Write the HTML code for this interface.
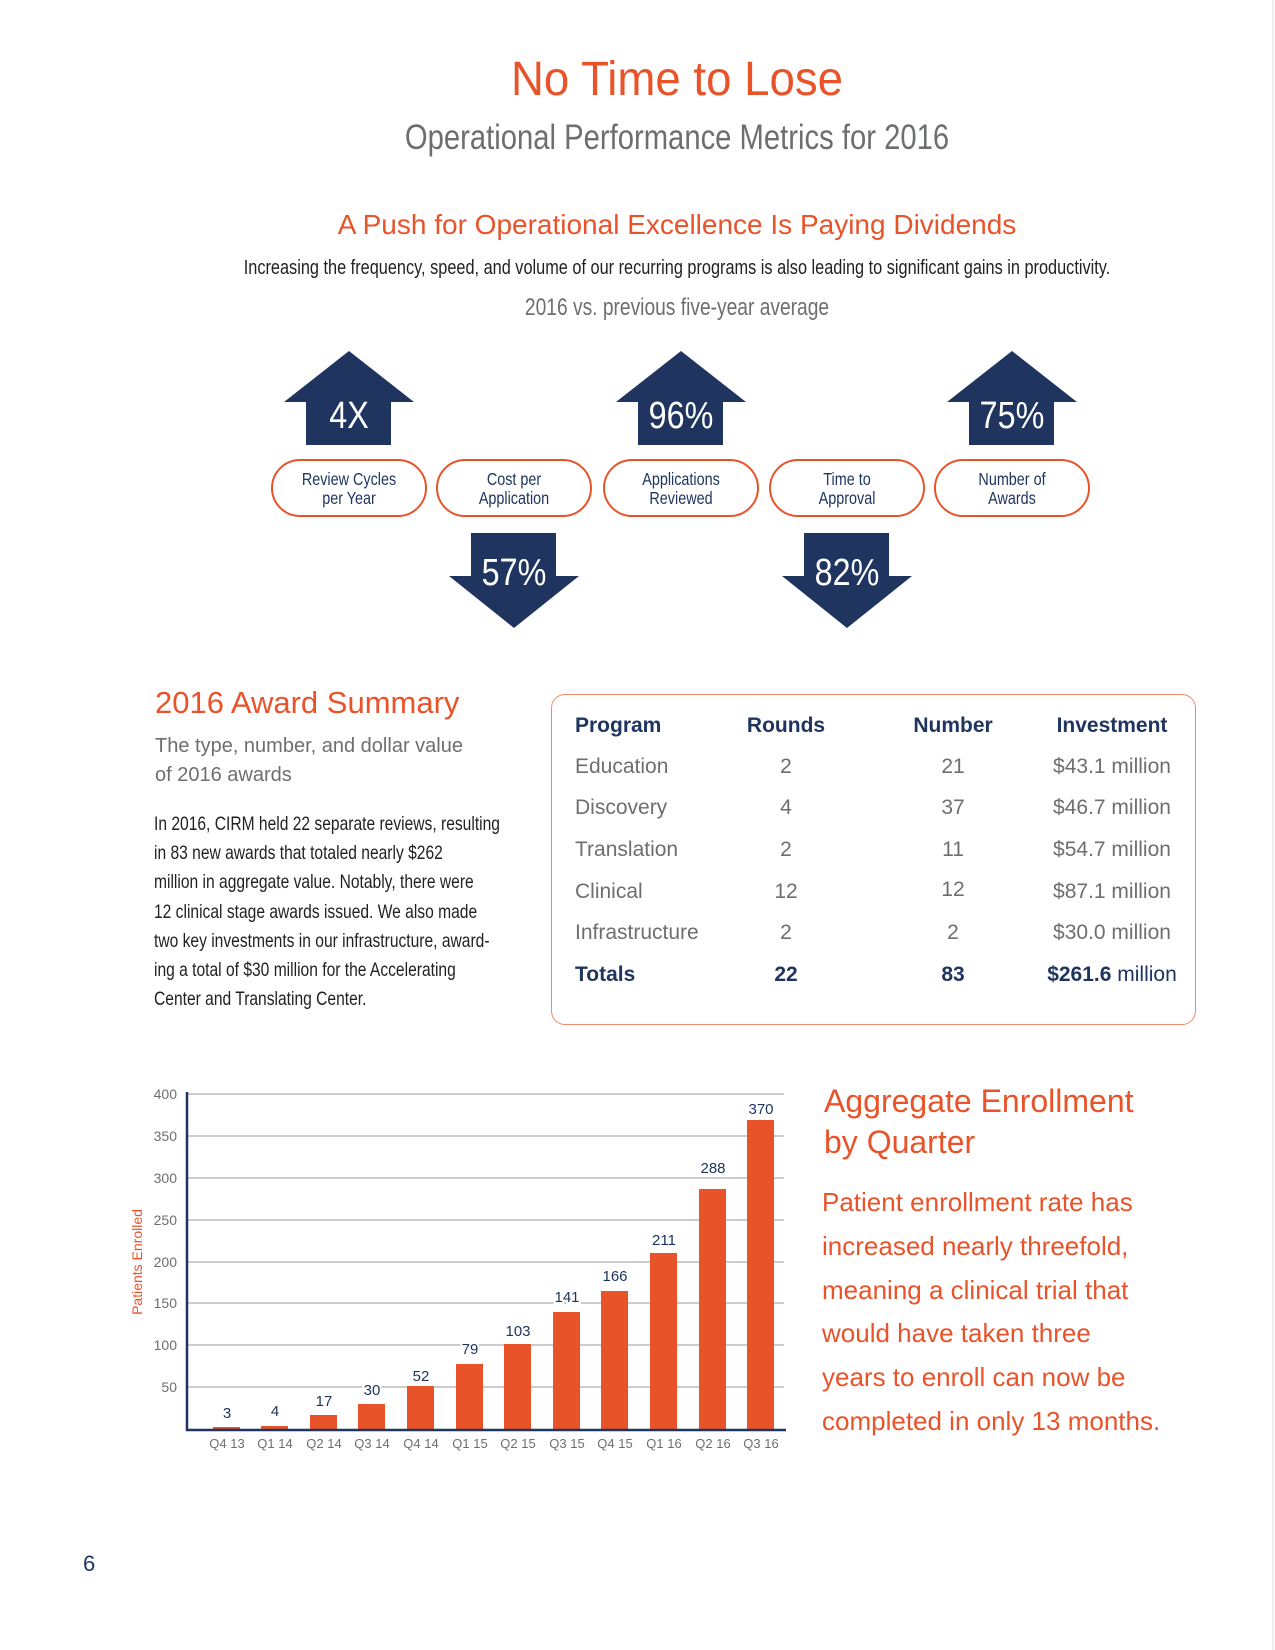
<!DOCTYPE html>
<html><head><meta charset="utf-8"><style>
body{margin:0;background:#fff}
#p{position:relative;width:1275px;height:1650px;overflow:hidden;font-family:"Liberation Sans",sans-serif}
.t{position:absolute;white-space:nowrap;line-height:1}
.c{transform:translateX(-50%)}
.or{color:#e8532a}
.nv{color:#1f3560}
.gr{color:#6d6e71}
.pl{position:absolute;left:154px;font-size:19.5px;line-height:1;color:#231f20;white-space:nowrap;transform:scaleX(0.8);transform-origin:0 0}
</style></head><body><div id="p">
<div style="position:absolute;left:1272px;top:0;width:2px;height:1650px;background:#eee"></div>

<div class="t or" style="left:677px;top:56px;font-size:48px;transform:translateX(-50%) scaleX(0.95)">No Time to Lose</div>
<div class="t gr" style="left:677px;top:120px;font-size:35px;transform:translateX(-50%) scaleX(0.835)">Operational Performance Metrics for 2016</div>
<div class="t c or" style="left:677px;top:211px;font-size:28px">A Push for Operational Excellence Is Paying Dividends</div>
<div class="t" style="left:677px;top:258px;font-size:20px;color:#231f20;transform:translateX(-50%) scaleX(0.815)">Increasing the frequency, speed, and volume of our recurring programs is also leading to significant gains in productivity.</div>
<div class="t gr" style="left:677px;top:296px;font-size:24px;transform:translateX(-50%) scaleX(0.8)">2016 vs. previous five-year average</div>

<svg style="position:absolute;left:0;top:0" width="1275" height="660">
<g fill="#1f3560">
<polygon points="349,351 414,402 391,402 391,445 306,445 306,402 284,402"/>
<polygon points="681,351 746,402 723,402 723,445 638,445 638,402 616,402"/>
<polygon points="1012,351 1077,402 1054,402 1054,445 969,445 969,402 947,402"/>
<polygon points="514,628 579,576 556,576 556,533 471,533 471,576 449,576"/>
<polygon points="847,628 912,576 889,576 889,533 804,533 804,576 782,576"/>
</g>
<g fill="none" stroke="#e8532a" stroke-width="2">
<rect x="272" y="460" width="154" height="56" rx="28"/>
<rect x="437" y="460" width="154" height="56" rx="28"/>
<rect x="604" y="460" width="154" height="56" rx="28"/>
<rect x="770" y="460" width="154" height="56" rx="28"/>
<rect x="935" y="460" width="154" height="56" rx="28"/>
</g>
<g fill="#fff" font-family="Liberation Sans, sans-serif" font-size="38" text-anchor="middle">
<text transform="translate(349,428) scale(0.85,1)">4X</text><text transform="translate(681,428) scale(0.85,1)">96%</text><text transform="translate(1012,428) scale(0.85,1)">75%</text>
<text transform="translate(514,585) scale(0.85,1)">57%</text><text transform="translate(847,585) scale(0.85,1)">82%</text>
</g>
<g fill="#1f3560" font-family="Liberation Sans, sans-serif" font-size="18" text-anchor="middle">
<text transform="translate(349,485) scale(0.8,1)">Review Cycles</text><text transform="translate(349,504) scale(0.8,1)">per Year</text>
<text transform="translate(514,485) scale(0.8,1)">Cost per</text><text transform="translate(514,504) scale(0.8,1)">Application</text>
<text transform="translate(681,485) scale(0.8,1)">Applications</text><text transform="translate(681,504) scale(0.8,1)">Reviewed</text>
<text transform="translate(847,485) scale(0.8,1)">Time to</text><text transform="translate(847,504) scale(0.8,1)">Approval</text>
<text transform="translate(1012,485) scale(0.8,1)">Number of</text><text transform="translate(1012,504) scale(0.8,1)">Awards</text>
</g>
</svg>

<div class="t or" style="left:155px;top:687px;font-size:31px">2016 Award Summary</div>
<div class="t gr" style="left:155px;top:736px;font-size:20px">The type, number, and dollar value</div>
<div class="t gr" style="left:155px;top:765px;font-size:20px">of 2016 awards</div>
<div class="pl" style="top:815px">In 2016, CIRM held 22 separate reviews, resulting</div>
<div class="pl" style="top:844px">in 83 new awards that totaled nearly $262</div>
<div class="pl" style="top:873px">million in aggregate value. Notably, there were</div>
<div class="pl" style="top:903px">12 clinical stage awards issued. We also made</div>
<div class="pl" style="top:932px">two key investments in our infrastructure, award-</div>
<div class="pl" style="top:961px">ing a total of $30 million for the Accelerating</div>
<div class="pl" style="top:990px">Center and Translating Center.</div>

<div style="position:absolute;left:551px;top:694px;width:643px;height:329px;border:1.5px solid #f08a66;border-radius:14px"></div>
<div style="font-size:21px">
<div class="t nv" style="left:575px;top:715px;font-weight:bold">Program</div>
<div class="t c nv" style="left:786px;top:715px;font-weight:bold">Rounds</div>
<div class="t c nv" style="left:953px;top:715px;font-weight:bold">Number</div>
<div class="t c nv" style="left:1112px;top:715px;font-weight:bold">Investment</div>

<div class="t gr" style="left:575px;top:756px">Education</div><div class="t c gr" style="left:786px;top:756px">2</div><div class="t c gr" style="left:953px;top:756px">21</div><div class="t c gr" style="left:1112px;top:756px">$43.1 million</div>
<div class="t gr" style="left:575px;top:797px">Discovery</div><div class="t c gr" style="left:786px;top:797px">4</div><div class="t c gr" style="left:953px;top:797px">37</div><div class="t c gr" style="left:1112px;top:797px">$46.7 million</div>
<div class="t gr" style="left:575px;top:839px">Translation</div><div class="t c gr" style="left:786px;top:839px">2</div><div class="t c gr" style="left:953px;top:839px">11</div><div class="t c gr" style="left:1112px;top:839px">$54.7 million</div>
<div class="t gr" style="left:575px;top:881px">Clinical</div><div class="t c gr" style="left:786px;top:881px">12</div><div class="t c gr" style="left:953px;top:879px">12</div><div class="t c gr" style="left:1112px;top:881px">$87.1 million</div>
<div class="t gr" style="left:575px;top:922px">Infrastructure</div><div class="t c gr" style="left:786px;top:922px">2</div><div class="t c gr" style="left:953px;top:922px">2</div><div class="t c gr" style="left:1112px;top:922px">$30.0 million</div>
<div class="t nv" style="left:575px;top:964px;font-weight:bold">Totals</div><div class="t c nv" style="left:786px;top:964px;font-weight:bold">22</div><div class="t c nv" style="left:953px;top:964px;font-weight:bold">83</div><div class="t c nv" style="left:1112px;top:964px"><b>$261.6</b> million</div>
</div>

<svg style="position:absolute;left:0;top:1060px" width="800" height="400">
<g transform="translate(0,-1060)">
<g stroke="#9a9a9a" stroke-width="1">
<line x1="187" x2="784" y1="1094" y2="1094"/><line x1="187" x2="784" y1="1136" y2="1136"/>
<line x1="187" x2="784" y1="1178" y2="1178"/><line x1="187" x2="784" y1="1220" y2="1220"/>
<line x1="187" x2="784" y1="1262" y2="1262"/><line x1="187" x2="784" y1="1303" y2="1303"/>
<line x1="187" x2="784" y1="1345" y2="1345"/><line x1="187" x2="784" y1="1387" y2="1387"/>
</g>
<g fill="#6d6e71" font-family="Liberation Sans, sans-serif" font-size="14" text-anchor="end">
<text x="177" y="1099">400</text><text x="177" y="1141">350</text><text x="177" y="1183">300</text><text x="177" y="1225">250</text>
<text x="177" y="1267">200</text><text x="177" y="1308">150</text><text x="177" y="1350">100</text><text x="177" y="1392">50</text>
</g>
<text transform="translate(142,1262) rotate(-90)" fill="#e8532a" font-family="Liberation Sans, sans-serif" font-size="14" text-anchor="middle">Patients Enrolled</text>
<g fill="#e8532a">
<rect x="213" y="1427" width="27" height="3"/>
<rect x="261" y="1426" width="27" height="4"/>
<rect x="310" y="1415" width="27" height="15"/>
<rect x="358" y="1404" width="27" height="26"/>
<rect x="407" y="1386" width="27" height="44"/>
<rect x="456" y="1364" width="27" height="66"/>
<rect x="504" y="1344" width="27" height="86"/>
<rect x="553" y="1312" width="27" height="118"/>
<rect x="601" y="1291" width="27" height="139"/>
<rect x="650" y="1253" width="27" height="177"/>
<rect x="699" y="1189" width="27" height="241"/>
<rect x="747" y="1120" width="27" height="310"/>
</g>
<g fill="#1f3560" font-family="Liberation Sans, sans-serif" font-size="15" text-anchor="middle" style="paint-order:stroke" stroke="#fff" stroke-width="4">
<text x="227" y="1418">3</text>
<text x="275" y="1416">4</text>
<text x="324" y="1406">17</text>
<text x="372" y="1395">30</text>
<text x="421" y="1381">52</text>
<text x="470" y="1354">79</text>
<text x="518" y="1336">103</text>
<text x="567" y="1302">141</text>
<text x="615" y="1281">166</text>
<text x="664" y="1245">211</text>
<text x="713" y="1173">288</text>
<text x="761" y="1114">370</text>
</g>
<line x1="187" x2="187" y1="1092" y2="1431" stroke="#1f3560" stroke-width="2.5"/>
<line x1="186" x2="786" y1="1430" y2="1430" stroke="#1f3560" stroke-width="2.5"/>
<g fill="#6d6e71" font-family="Liberation Sans, sans-serif" font-size="13" text-anchor="middle">
<text x="227" y="1448">Q4 13</text><text x="275" y="1448">Q1 14</text><text x="324" y="1448">Q2 14</text><text x="372" y="1448">Q3 14</text>
<text x="421" y="1448">Q4 14</text><text x="470" y="1448">Q1 15</text><text x="518" y="1448">Q2 15</text><text x="567" y="1448">Q3 15</text>
<text x="615" y="1448">Q4 15</text><text x="664" y="1448">Q1 16</text><text x="713" y="1448">Q2 16</text><text x="761" y="1448">Q3 16</text>
</g>
</g>
</svg>

<div class="t or" style="left:824px;top:1085px;font-size:32px">Aggregate Enrollment</div>
<div class="t or" style="left:824px;top:1126px;font-size:32px">by Quarter</div>
<div class="or" style="position:absolute;left:822px;top:1181px;font-size:26px;line-height:43.8px;width:420px">Patient enrollment rate has<br>increased nearly threefold,<br>meaning a clinical trial that<br>would have taken three<br>years to enroll can now be<br>completed in only 13 months.</div>

<div class="t nv" style="left:83px;top:1553px;font-size:22px">6</div>
</div></body></html>
